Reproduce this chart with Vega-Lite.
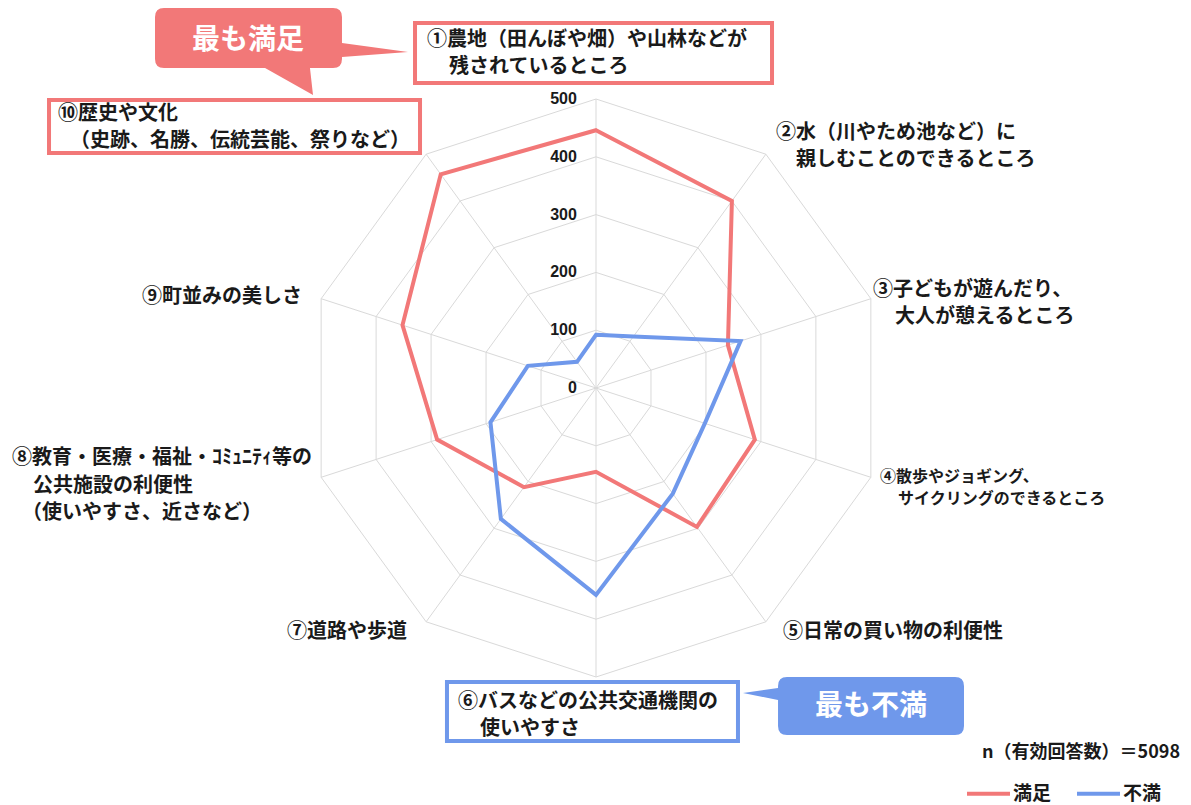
{
  "$schema": "https://vega.github.io/schema/vega-lite/v6.json",
  "width": 1191,
  "height": 805,
  "autosize": "none",
  "padding": 0,
  "background": "white",
  "config": {"view": {"stroke": null}, "text": {"font": "Noto Sans CJK JP", "fontWeight": "bold", "fontSize": 20, "color": "#1a1a1a", "align": "left", "baseline": "middle"}},
  "datasets": {
    "main": [
      {"axis": 1, "item": "①農地（田んぼや畑）や山林などが残されているところ", "series": "満足", "value": 446},
      {"axis": 2, "item": "②水（川やため池など）に親しむことのできるところ", "series": "満足", "value": 400},
      {"axis": 3, "item": "③子どもが遊んだり、大人が憩えるところ", "series": "満足", "value": 240},
      {"axis": 4, "item": "④散歩やジョギング、サイクリングのできるところ", "series": "満足", "value": 289},
      {"axis": 5, "item": "⑤日常の買い物の利便性", "series": "満足", "value": 297},
      {"axis": 6, "item": "⑥バスなどの公共交通機関の使いやすさ", "series": "満足", "value": 145},
      {"axis": 7, "item": "⑦道路や歩道", "series": "満足", "value": 212},
      {"axis": 8, "item": "⑧教育・医療・福祉・ｺﾐｭﾆﾃｨ等の公共施設の利便性", "series": "満足", "value": 289},
      {"axis": 9, "item": "⑨町並みの美しさ", "series": "満足", "value": 352},
      {"axis": 10, "item": "⑩歴史や文化", "series": "満足", "value": 457},
      {"axis": 1, "item": "①農地（田んぼや畑）や山林などが残されているところ", "series": "不満", "value": 92},
      {"axis": 2, "item": "②水（川やため池など）に親しむことのできるところ", "series": "不満", "value": 110},
      {"axis": 3, "item": "③子どもが遊んだり、大人が憩えるところ", "series": "不満", "value": 263},
      {"axis": 4, "item": "④散歩やジョギング、サイクリングのできるところ", "series": "不満", "value": 198},
      {"axis": 5, "item": "⑤日常の買い物の利便性", "series": "不満", "value": 226},
      {"axis": 6, "item": "⑥バスなどの公共交通機関の使いやすさ", "series": "不満", "value": 358},
      {"axis": 7, "item": "⑦道路や歩道", "series": "不満", "value": 280},
      {"axis": 8, "item": "⑧教育・医療・福祉・ｺﾐｭﾆﾃｨ等の公共施設の利便性", "series": "不満", "value": 192},
      {"axis": 9, "item": "⑨町並みの美しさ", "series": "不満", "value": 124},
      {"axis": 10, "item": "⑩歴史や文化", "series": "不満", "value": 56}
    ],
    "grid": [
      {"axis":1,"r":0},{"axis":2,"r":0},{"axis":3,"r":0},{"axis":4,"r":0},{"axis":5,"r":0},{"axis":6,"r":0},{"axis":7,"r":0},{"axis":8,"r":0},{"axis":9,"r":0},{"axis":10,"r":0},
      {"axis":1,"r":100},{"axis":2,"r":100},{"axis":3,"r":100},{"axis":4,"r":100},{"axis":5,"r":100},{"axis":6,"r":100},{"axis":7,"r":100},{"axis":8,"r":100},{"axis":9,"r":100},{"axis":10,"r":100},
      {"axis":1,"r":200},{"axis":2,"r":200},{"axis":3,"r":200},{"axis":4,"r":200},{"axis":5,"r":200},{"axis":6,"r":200},{"axis":7,"r":200},{"axis":8,"r":200},{"axis":9,"r":200},{"axis":10,"r":200},
      {"axis":1,"r":300},{"axis":2,"r":300},{"axis":3,"r":300},{"axis":4,"r":300},{"axis":5,"r":300},{"axis":6,"r":300},{"axis":7,"r":300},{"axis":8,"r":300},{"axis":9,"r":300},{"axis":10,"r":300},
      {"axis":1,"r":400},{"axis":2,"r":400},{"axis":3,"r":400},{"axis":4,"r":400},{"axis":5,"r":400},{"axis":6,"r":400},{"axis":7,"r":400},{"axis":8,"r":400},{"axis":9,"r":400},{"axis":10,"r":400},
      {"axis":1,"r":500},{"axis":2,"r":500},{"axis":3,"r":500},{"axis":4,"r":500},{"axis":5,"r":500},{"axis":6,"r":500},{"axis":7,"r":500},{"axis":8,"r":500},{"axis":9,"r":500},{"axis":10,"r":500}
    ],
    "ticks": [{"r": 0}, {"r": 100}, {"r": 200}, {"r": 300}, {"r": 400}, {"r": 500}]
  },
  "layer": [
    {
      "data": {"name": "grid"},
      "transform": [
        {"filter": "datum.r > 0"},
        {"calculate": "(datum.axis - 1) * PI / 5", "as": "t"},
        {"calculate": "datum.r * sin(datum.t)", "as": "gx"},
        {"calculate": "datum.r * cos(datum.t)", "as": "gy"}
      ],
      "mark": {"type": "line", "interpolate": "linear-closed", "stroke": "#d9d9d9", "strokeWidth": 1},
      "encoding": {
        "x": {"field": "gx", "type": "quantitative", "scale": {"domain": [-1031.14, 1029.41], "zero": false, "nice": false}, "axis": null},
        "y": {"field": "gy", "type": "quantitative", "scale": {"domain": [-721.45, 671.28], "zero": false, "nice": false}, "axis": null},
        "detail": {"field": "r", "type": "nominal"},
        "order": {"field": "axis", "type": "quantitative"}
      }
    },
    {
      "data": {"name": "grid"},
      "transform": [
        {"filter": "datum.r == 0 || datum.r == 500"},
        {"calculate": "(datum.axis - 1) * PI / 5", "as": "t"},
        {"calculate": "datum.r * sin(datum.t)", "as": "gx"},
        {"calculate": "datum.r * cos(datum.t)", "as": "gy"}
      ],
      "mark": {"type": "line", "stroke": "#d9d9d9", "strokeWidth": 1},
      "encoding": {
        "x": {"field": "gx", "type": "quantitative", "axis": null},
        "y": {"field": "gy", "type": "quantitative", "axis": null},
        "detail": {"field": "axis", "type": "nominal"},
        "order": {"field": "r", "type": "quantitative"}
      }
    },
    {
      "data": {"name": "ticks"},
      "mark": {"type": "text", "align": "right", "baseline": "middle", "font": "Liberation Sans", "fontWeight": "bold", "fontSize": 16, "color": "#1a1a1a"},
      "encoding": {
        "x": {"datum": -33, "type": "quantitative", "axis": null},
        "y": {"field": "r", "type": "quantitative", "axis": null},
        "text": {"field": "r", "type": "quantitative"}
      }
    },
    {
      "data": {"name": "main"},
      "transform": [
        {"calculate": "(datum.axis - 1) * PI / 5", "as": "t"},
        {"calculate": "datum.value * sin(datum.t)", "as": "cx"},
        {"calculate": "datum.value * cos(datum.t)", "as": "cy"}
      ],
      "mark": {"type": "line", "interpolate": "linear-closed", "strokeWidth": 4},
      "encoding": {
        "x": {"field": "cx", "type": "quantitative", "axis": null},
        "y": {"field": "cy", "type": "quantitative", "axis": null},
        "color": {
          "field": "series", "type": "nominal",
          "scale": {"domain": ["満足", "不満"], "range": ["#f27878", "#6f98eb"]},
          "legend": {"orient": "none", "legendX": 965, "legendY": 770, "direction": "horizontal", "title": null, "symbolType": "stroke", "symbolSize": 1849, "symbolStrokeWidth": 4, "labelFontSize": 19, "labelFont": "Noto Sans CJK JP", "labelFontWeight": "bold", "labelColor": "#1a1a1a", "columnPadding": 17, "padding": 0, "labelOffset": 1}
        },
        "order": {"field": "axis", "type": "quantitative"}
      }
    },
    {
      "data": {"values": [{}]},
      "mark": {"type": "point", "filled": false, "fill": "white", "fillOpacity": 1, "stroke": "#f27878", "strokeWidth": 4, "opacity": 1, "size": 127449, "shape": "M-1,-0.168L1,-0.168L1,0.168L-1,0.168Z"},
      "encoding": {"x": {"datum": -4.3, "type": "quantitative", "axis": null}, "y": {"datum": 579.6, "type": "quantitative", "axis": null}}
    },
    {
      "data": {"values": [{}]},
      "mark": {"type": "point", "filled": false, "fill": "white", "fillOpacity": 1, "stroke": "#f27878", "strokeWidth": 4, "opacity": 1, "size": 137641, "shape": "M-1,-0.143L1,-0.143L1,0.143L-1,0.143Z"},
      "encoding": {"x": {"datum": -625.4, "type": "quantitative", "axis": null}, "y": {"datum": 452.4, "type": "quantitative", "axis": null}}
    },
    {
      "data": {"values": [{}]},
      "mark": {"type": "point", "filled": false, "fill": "white", "fillOpacity": 1, "stroke": "#6f98eb", "strokeWidth": 4, "opacity": 1, "size": 84681, "shape": "M-1,-0.203L1,-0.203L1,0.203L-1,0.203Z"},
      "encoding": {"x": {"datum": -6.1, "type": "quantitative", "axis": null}, "y": {"datum": -559.7, "type": "quantitative", "axis": null}}
    },
    {
      "data": {"values": [{}]},
      "mark": {"type": "point", "filled": true, "fill": "#f27878", "opacity": 1, "strokeWidth": 0, "size": 64009, "shape": "M-0.929,-0.344L0.407,-0.344Q0.478,-0.344 0.478,-0.273L0.478,-0.067L1,0.004L0.478,0.043L0.478,0.059Q0.478,0.130 0.407,0.130L0.225,0.130L0.249,0.344L-0.130,0.130L-0.929,0.130Q-1,0.130 -1,0.059L-1,-0.273Q-1,-0.344 -0.929,-0.344Z"},
      "encoding": {"x": {"datum": -544.1, "type": "quantitative", "axis": null}, "y": {"datum": 582.2, "type": "quantitative", "axis": null}}
    },
    {
      "data": {"values": [{}]},
      "mark": {"type": "point", "filled": true, "fill": "#6f98eb", "opacity": 1, "strokeWidth": 0, "size": 48841, "shape": "M-0.602,-0.262L0.919,-0.262Q1,-0.262 1,-0.181L1,0.181Q1,0.262 0.919,0.262L-0.602,0.262Q-0.683,0.262 -0.683,0.181L-0.683,-0.054L-1,-0.118L-0.683,-0.163L-0.683,-0.181Q-0.683,-0.262 -0.602,-0.262Z"},
      "encoding": {"x": {"datum": 445.5, "type": "quantitative", "axis": null}, "y": {"datum": -550.2, "type": "quantitative", "axis": null}}
    },
    {
      "data": {"values": [{}]},
      "mark": {"type": "text", "align": "center", "fontSize": 28, "color": "white"},
      "encoding": {"x": {"datum": -602.1, "type": "quantitative", "axis": null}, "y": {"datum": 600.3, "type": "quantitative", "axis": null}, "text": {"value": "最も満足"}}
    },
    {
      "data": {"values": [{}]},
      "mark": {"type": "text", "align": "center", "fontSize": 28, "color": "white"},
      "encoding": {"x": {"datum": 475.8, "type": "quantitative", "axis": null}, "y": {"datum": -551.9, "type": "quantitative", "axis": null}, "text": {"value": "最も不満"}}
    },
    {
      "data": {"values": [{}]}, "mark": {"type": "text"},
      "encoding": {"x": {"datum": -292.4, "type": "quantitative", "axis": null}, "y": {"datum": 602.1, "type": "quantitative", "axis": null}, "text": {"value": "①農地（田んぼや畑）や山林などが"}}
    },
    {
      "data": {"values": [{}]}, "mark": {"type": "text"},
      "encoding": {"x": {"datum": -254.3, "type": "quantitative", "axis": null}, "y": {"datum": 555.4, "type": "quantitative", "axis": null}, "text": {"value": "残されているところ"}}
    },
    {
      "data": {"values": [{}]}, "mark": {"type": "text"},
      "encoding": {"x": {"datum": 311.4, "type": "quantitative", "axis": null}, "y": {"datum": 441.2, "type": "quantitative", "axis": null}, "text": {"value": "②水（川やため池など）に"}}
    },
    {
      "data": {"values": [{}]}, "mark": {"type": "text"},
      "encoding": {"x": {"datum": 346.0, "type": "quantitative", "axis": null}, "y": {"datum": 394.5, "type": "quantitative", "axis": null}, "text": {"value": "親しむことのできるところ"}}
    },
    {
      "data": {"values": [{}]}, "mark": {"type": "text"},
      "encoding": {"x": {"datum": 479.2, "type": "quantitative", "axis": null}, "y": {"datum": 169.6, "type": "quantitative", "axis": null}, "text": {"value": "③子どもが遊んだり、"}}
    },
    {
      "data": {"values": [{}]}, "mark": {"type": "text"},
      "encoding": {"x": {"datum": 517.3, "type": "quantitative", "axis": null}, "y": {"datum": 122.8, "type": "quantitative", "axis": null}, "text": {"value": "大人が憩えるところ"}}
    },
    {
      "data": {"values": [{}]}, "mark": {"type": "text", "fontSize": 16},
      "encoding": {"x": {"datum": 491.3, "type": "quantitative", "axis": null}, "y": {"datum": -154.0, "type": "quantitative", "axis": null}, "text": {"value": "④散歩やジョギング、"}}
    },
    {
      "data": {"values": [{}]}, "mark": {"type": "text", "fontSize": 16},
      "encoding": {"x": {"datum": 522.5, "type": "quantitative", "axis": null}, "y": {"datum": -192.0, "type": "quantitative", "axis": null}, "text": {"value": "サイクリングのできるところ"}}
    },
    {
      "data": {"values": [{}]}, "mark": {"type": "text"},
      "encoding": {"x": {"datum": 323.5, "type": "quantitative", "axis": null}, "y": {"datum": -422.1, "type": "quantitative", "axis": null}, "text": {"value": "⑤日常の買い物の利便性"}}
    },
    {
      "data": {"values": [{}]}, "mark": {"type": "text"},
      "encoding": {"x": {"datum": -238.8, "type": "quantitative", "axis": null}, "y": {"datum": -543.3, "type": "quantitative", "axis": null}, "text": {"value": "⑥バスなどの公共交通機関の"}}
    },
    {
      "data": {"values": [{}]}, "mark": {"type": "text"},
      "encoding": {"x": {"datum": -200.7, "type": "quantitative", "axis": null}, "y": {"datum": -589.9, "type": "quantitative", "axis": null}, "text": {"value": "使いやすさ"}}
    },
    {
      "data": {"values": [{}]}, "mark": {"type": "text"},
      "encoding": {"x": {"datum": -534.6, "type": "quantitative", "axis": null}, "y": {"datum": -422.1, "type": "quantitative", "axis": null}, "text": {"value": "⑦道路や歩道"}}
    },
    {
      "data": {"values": [{}]}, "mark": {"type": "text"},
      "encoding": {"x": {"datum": -1010.4, "type": "quantitative", "axis": null}, "y": {"datum": -121.1, "type": "quantitative", "axis": null}, "text": {"value": "⑧教育・医療・福祉・ｺﾐｭﾆﾃｨ等の"}}
    },
    {
      "data": {"values": [{}]}, "mark": {"type": "text"},
      "encoding": {"x": {"datum": -974.0, "type": "quantitative", "axis": null}, "y": {"datum": -169.6, "type": "quantitative", "axis": null}, "text": {"value": "公共施設の利便性"}}
    },
    {
      "data": {"values": [{}]}, "mark": {"type": "text"},
      "encoding": {"x": {"datum": -993.1, "type": "quantitative", "axis": null}, "y": {"datum": -216.2, "type": "quantitative", "axis": null}, "text": {"value": "（使いやすさ、近さなど）"}}
    },
    {
      "data": {"values": [{}]}, "mark": {"type": "text"},
      "encoding": {"x": {"datum": -785.5, "type": "quantitative", "axis": null}, "y": {"datum": 157.4, "type": "quantitative", "axis": null}, "text": {"value": "⑨町並みの美しさ"}}
    },
    {
      "data": {"values": [{}]}, "mark": {"type": "text"},
      "encoding": {"x": {"datum": -930.8, "type": "quantitative", "axis": null}, "y": {"datum": 474.0, "type": "quantitative", "axis": null}, "text": {"value": "⑩歴史や文化"}}
    },
    {
      "data": {"values": [{}]}, "mark": {"type": "text"},
      "encoding": {"x": {"datum": -910.0, "type": "quantitative", "axis": null}, "y": {"datum": 427.4, "type": "quantitative", "axis": null}, "text": {"value": "（史跡、名勝、伝統芸能、祭りなど）"}}
    },
    {
      "data": {"values": [{}]},
      "mark": {"type": "text", "align": "right", "fontSize": 18},
      "encoding": {"x": {"datum": 1010.4, "type": "quantitative", "axis": null}, "y": {"datum": -631.5, "type": "quantitative", "axis": null}, "text": {"value": "n（有効回答数）＝5098"}}
    }
  ]
}
